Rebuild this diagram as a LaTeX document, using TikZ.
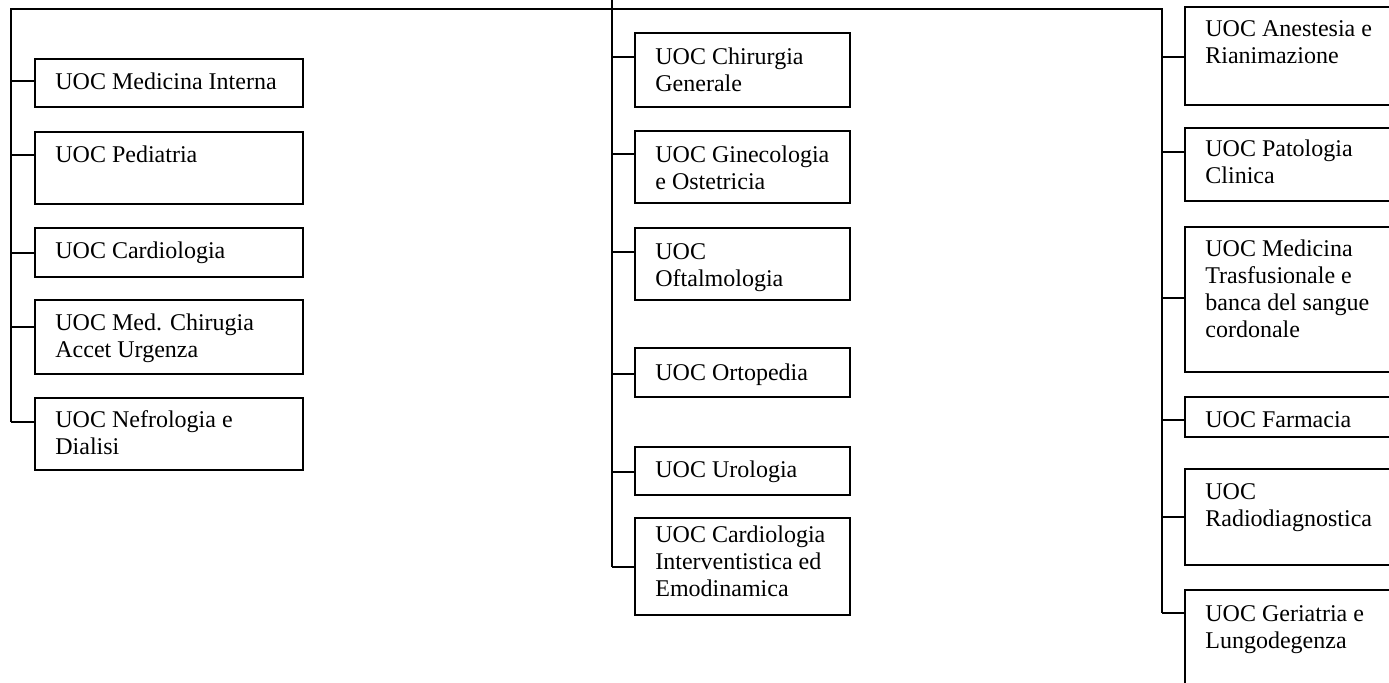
\documentclass[tikz,border=0pt]{standalone}
\usepackage{fontspec}
\setmainfont{Liberation Serif}
\tikzset{
  boxst/.style={draw, line width=1.1pt, rectangle, inner sep=0pt, outer sep=0pt},
  lbl/.style={anchor=base west, inner sep=0pt, font=\fontsize{12}{13.5}\selectfont},
  conn/.style={line width=1pt},
}
\newcommand\ubox[7]{%
  \node[boxst, minimum width={(#4-#2)*0.5pt}, minimum height={(#5-#3)*0.5pt}] (#1) at ({(#2+#4)/2},{(#3+#5)/2}) {};
  \node[lbl] (#1t) at ({#2+20},{#3+#6}) {\begin{tabular}[t]{@{}l@{}}#7\end{tabular}};
}
\begin{document}
\begin{tikzpicture}[x=0.5pt,y=-0.5pt]
\useasboundingbox (0,0) rectangle (1389,683);
\clip (0,0) rectangle (1389,683);
% left column
\ubox{lb1}{35}{59}{303}{107}{31}{UOC Medicina Interna}
\ubox{lb2}{35}{132}{303}{204}{31}{UOC Pediatria}
\ubox{lb3}{35}{228}{303}{277}{31}{UOC Cardiologia}
\ubox{lb4}{35}{300}{303}{374}{31}{UOC Med. Chirugia\\Accet Urgenza}
\ubox{lb5}{35}{398}{303}{470}{30}{UOC Nefrologia e\\Dialisi}
% middle column
\ubox{mb1}{635}{33}{850}{107}{32}{UOC Chirurgia\\Generale}
\ubox{mb2}{635}{131}{850}{203}{32}{UOC Ginecologia\\e Ostetricia}
\ubox{mb3}{635}{228}{850}{300}{32}{UOC\\Oftalmologia}
\ubox{mb4}{635}{348}{850}{397}{33}{UOC Ortopedia}
\ubox{mb5}{635}{447}{850}{495}{31}{UOC Urologia}
\ubox{mb6}{635}{518}{850}{615}{25}{UOC Cardiologia\\Interventistica ed\\Emodinamica}
% right column
\ubox{rb1}{1185}{7}{1395}{105}{30}{UOC Anestesia e\\Rianimazione}
\ubox{rb2}{1185}{128}{1395}{201}{29}{UOC Patologia\\Clinica}
\ubox{rb3}{1185}{227}{1395}{372}{30}{UOC Medicina\\Trasfusionale e\\banca del sangue\\cordonale}
\ubox{rb4}{1185}{397}{1395}{437}{31}{UOC Farmacia}
\ubox{rb5}{1185}{469}{1395}{565}{31}{UOC\\Radiodiagnostica}
\ubox{rb6}{1185}{590}{1395}{700}{32}{UOC Geriatria e\\Lungodegenza}
% spines
\coordinate (Ltop) at (11,9);
\coordinate (Lend) at (11,422);
\coordinate (Rtop) at (1162,9);
\coordinate (Rend) at (1162,613);
\coordinate (Mtop) at (612,0);
\coordinate (Mend) at (612,567);
\draw[conn] (Lend) -- (Ltop) -- (Rtop) -- (Rend);
\draw[conn] (Mtop) -- (Mend);
% connectors
\foreach \n/\y in {lb1/81, lb2/155, lb3/253, lb4/327, lb5/422} {
  \coordinate (c\n) at (11,\y);
  \draw[conn] (c\n) -- (c\n -| \n.west);
}
\foreach \n/\y in {mb1/57, mb2/154, mb3/252, mb4/374, mb5/472, mb6/567} {
  \coordinate (c\n) at (612,\y);
  \draw[conn] (c\n) -- (c\n -| \n.west);
}
\foreach \n/\y in {rb1/57, rb2/152, rb3/298, rb4/420, rb5/517, rb6/613} {
  \coordinate (c\n) at (1162,\y);
  \draw[conn] (c\n) -- (c\n -| \n.west);
}
\end{tikzpicture}
\end{document}
